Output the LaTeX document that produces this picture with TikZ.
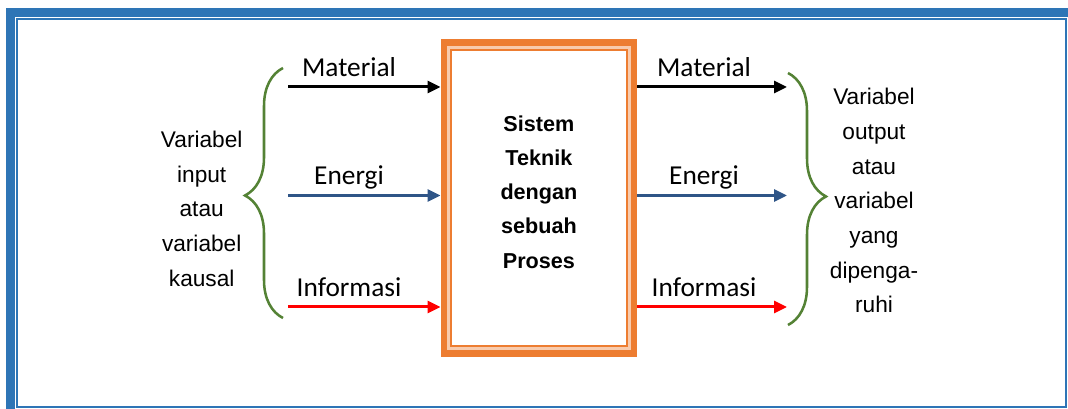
\documentclass[tikz,border=0pt]{standalone}
\usepackage{fontspec}
\setmainfont{Liberation Sans}
\newfontfamily\calibri{Carlito}
\usetikzlibrary{arrows.meta,decorations.pathreplacing}
\definecolor{frameblue}{RGB}{46,117,182}
\definecolor{boxorange}{RGB}{237,125,49}
\definecolor{paleorange}{RGB}{248,203,173}
\definecolor{bracegreen}{RGB}{84,130,53}
\definecolor{energyblue}{RGB}{47,85,135}
\definecolor{infored}{RGB}{255,0,0}
\tikzstyle{flow}=[line width=2.25pt, -{Triangle[length=9.75pt,width=9pt]}]
\tikzstyle{lab}=[draw=none, anchor=base, inner sep=0pt, font=\calibri\fontsize{20.5}{24}\selectfont]
\tikzstyle{side}=[draw=none, align=center, inner sep=0pt, font=\fontsize{17}{26}\selectfont]
\tikzstyle{proc}=[draw=boxorange, rectangle, line width=4.875pt, outer sep=2.44pt, inner sep=0pt, minimum width=142.7pt, minimum height=233.2pt]
\tikzstyle{brc}=[draw=bracegreen, line width=1.9pt, decorate, decoration={brace, amplitude=28.5pt, aspect=0.49}]

\begin{document}
\begin{tikzpicture}[x=0.75pt, y=-0.75pt]
\useasboundingbox (0,0) rectangle (1068,409);
\fill[frameblue] (6,8) rectangle (1068,17);
\fill[frameblue] (6,8) rectangle (15,409);
\draw[frameblue, line width=1.5pt] (17,19) rectangle (1066,407);
\node[proc] (sys) at (538.9,198) {};
\draw[paleorange, line width=2.4pt] ([shift={(8,8)}]sys.north west) rectangle ([shift={(-8,-8)}]sys.south east);
\draw[boxorange, line width=1.1pt] ([shift={(10.5,10.5)}]sys.north west) rectangle ([shift={(-10.5,-10.5)}]sys.south east);
\node[side, font=\bfseries\fontsize{16.2}{25.6}\selectfont] (proses) at (538.9,192.1) {Sistem\\Teknik\\dengan\\sebuah\\Proses};
\foreach \n/\t/\y/\ly/\c in {M/Material/87/76.7/black, E/Energi/195.5/185/energyblue, I/Informasi/307/296.7/infored}{
  \coordinate (in\n) at (288,\y);
  \coordinate (out\n) at (787,\y);
  \draw[flow, \c] (in\n) -- (in\n -| sys.west);
  \draw[flow, \c] (out\n -| sys.east) -- (out\n);
  \node[lab] (l\n) at (349,\ly) {\t};
  \node[lab] (r\n) at (704,\ly) {\t};
}
\coordinate (bl1) at (283,318);
\coordinate (bl2) at (283,68);
\coordinate (br1) at (788,73);
\coordinate (br2) at (788,325);
\draw[brc] (bl1) -- (bl2);
\draw[brc] (br1) -- (br2);
\node[side] (vin) at (201.7,208.9) {Variabel\\input\\atau\\variabel\\kausal};
\node[side] (vout) at (874,200.9) {Variabel\\output\\atau\\variabel\\yang\\dipenga-\\ruhi};
\end{tikzpicture}
\end{document}
